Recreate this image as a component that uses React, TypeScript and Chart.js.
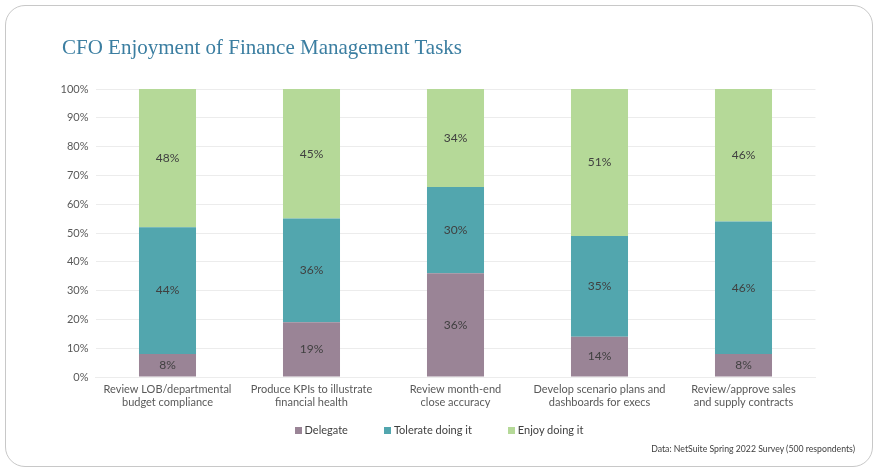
import React, { useEffect, useRef } from "react";
import { Chart, registerables } from "chart.js";

Chart.register(...registerables);

const categories: string[][] = [
  ["Review LOB/departmental", "budget compliance"],
  ["Produce KPIs to illustrate", "financial health"],
  ["Review month-end", "close accuracy"],
  ["Develop scenario plans and", "dashboards for execs"],
  ["Review/approve sales", "and supply contracts"],
];
const delegate = [8, 19, 36, 14, 8];
const tolerate = [44, 36, 30, 35, 46];
const enjoy = [48, 45, 34, 51, 46];
const seriesNames = ["Delegate", "Tolerate doing it", "Enjoy doing it"];
const seriesColors = ["#9a8496", "#52a6ae", "#b5d998"];
const yTicks = [0, 10, 20, 30, 40, 50, 60, 70, 80, 90, 100];

const FONT = "Lato, 'Open Sans', sans-serif";

const labelPlugin = {
  id: "segLabels",
  afterDatasetsDraw(chart: any) {
    const ctx = chart.ctx;
    ctx.save();
    ctx.font = `12px ${FONT}`;
    ctx.fillStyle = "#404040";
    ctx.textAlign = "center";
    ctx.textBaseline = "middle";
    chart.data.datasets.forEach((ds: any, i: number) => {
      const meta = chart.getDatasetMeta(i);
      meta.data.forEach((el: any, j: number) => {
        const v = ds.data[j];
        const y = (el.y + el.base) / 2;
        ctx.fillText(v + "%", el.x, y);
      });
    });
    ctx.restore();
  },
};

export default function App() {
  const ref = useRef<HTMLCanvasElement>(null);
  useEffect(() => {
    if (!ref.current) return;
    const chart = new Chart(ref.current, {
      type: "bar",
      data: {
        labels: categories,
        datasets: [
          { label: seriesNames[0], data: delegate, backgroundColor: seriesColors[0] },
          { label: seriesNames[1], data: tolerate, backgroundColor: seriesColors[1] },
          { label: seriesNames[2], data: enjoy, backgroundColor: seriesColors[2] },
        ],
      },
      options: {
        responsive: false,
        animation: false,
        devicePixelRatio: 1,
        layout: { padding: { top: 89, left: 0, right: 0, bottom: 61 } },
        datasets: {
          bar: { categoryPercentage: 1, barPercentage: 0.396 },
        },
        plugins: {
          title: { display: false },
          tooltip: { enabled: false },
          legend: { display: false },
        },
        scales: {
          x: {
            stacked: true,
            grid: { display: false, drawTicks: false },
            border: { display: true, color: "#ececec" },
            ticks: {
              color: "#595959",
              font: { family: FONT, size: 11, lineHeight: 1.18 },
              padding: 6,
              maxRotation: 0,
              autoSkip: false,
            },
            afterFit: (s: any) => {
              s.height = 36;
            },
          },
          y: {
            stacked: true,
            min: 0,
            max: 100,
            afterBuildTicks: (s: any) => {
              s.ticks = yTicks.map((v) => ({ value: v }));
            },
            grid: { color: "#ececec", drawTicks: false },
            border: { display: false },
            ticks: {
              color: "#595959",
              font: { family: FONT, size: 11 },
              padding: 7,
              callback: (v: any) => v + "%",
            },
            afterFit: (s: any) => {
              s.width = 95.5;
            },
          },
          yr: {
            position: "right",
            min: 0,
            max: 100,
            grid: { display: false, drawTicks: false },
            border: { display: false },
            ticks: { display: false },
            afterFit: (s: any) => {
              s.width = 62.5;
            },
          },
        },
      } as any,
      plugins: [labelPlugin],
    });
    return () => chart.destroy();
  }, []);

  return (
    <div style={{ position: "fixed", left: 0, top: 0, width: 878, height: 474, background: "#fff" }}>
      <div
        style={{
          position: "absolute",
          left: 5,
          top: 5,
          width: 866,
          height: 460,
          border: "1.5px solid #c8c8c8",
          borderRadius: 20,
        }}
      />
      <canvas ref={ref} width={878} height={474} style={{ position: "absolute", left: 0, top: 0, width: 878, height: 474 }} />
      <div
        style={{
          position: "absolute",
          left: 62,
          top: 34,
          fontFamily: "'Liberation Serif', 'DejaVu Serif', serif",
          fontSize: 21,
          color: "#3b7ea1",
          whiteSpace: "nowrap",
          lineHeight: "26px",
        }}
      >
        CFO Enjoyment of Finance Management Tasks
      </div>
      <div
        style={{
          position: "absolute",
          left: 0,
          top: 423,
          width: 878,
          display: "flex",
          justifyContent: "center",
          fontFamily: FONT,
          fontSize: 11,
          color: "#404040",
          lineHeight: "14px",
        }}
      >
        {seriesNames.map((n, i) => (
          <div key={n} style={{ display: "flex", alignItems: "center", marginLeft: i === 0 ? 0 : 36 }}>
            <span style={{ display: "inline-block", width: 7, height: 7, background: seriesColors[i], marginRight: 3 }} />
            <span>{n}</span>
          </div>
        ))}
      </div>
      <div
        style={{
          position: "absolute",
          right: 23,
          top: 443,
          fontFamily: FONT,
          fontSize: 8.7,
          color: "#404040",
          whiteSpace: "nowrap",
        }}
      >
        Data: NetSuite Spring 2022 Survey (500 respondents)
      </div>
    </div>
  );
}
